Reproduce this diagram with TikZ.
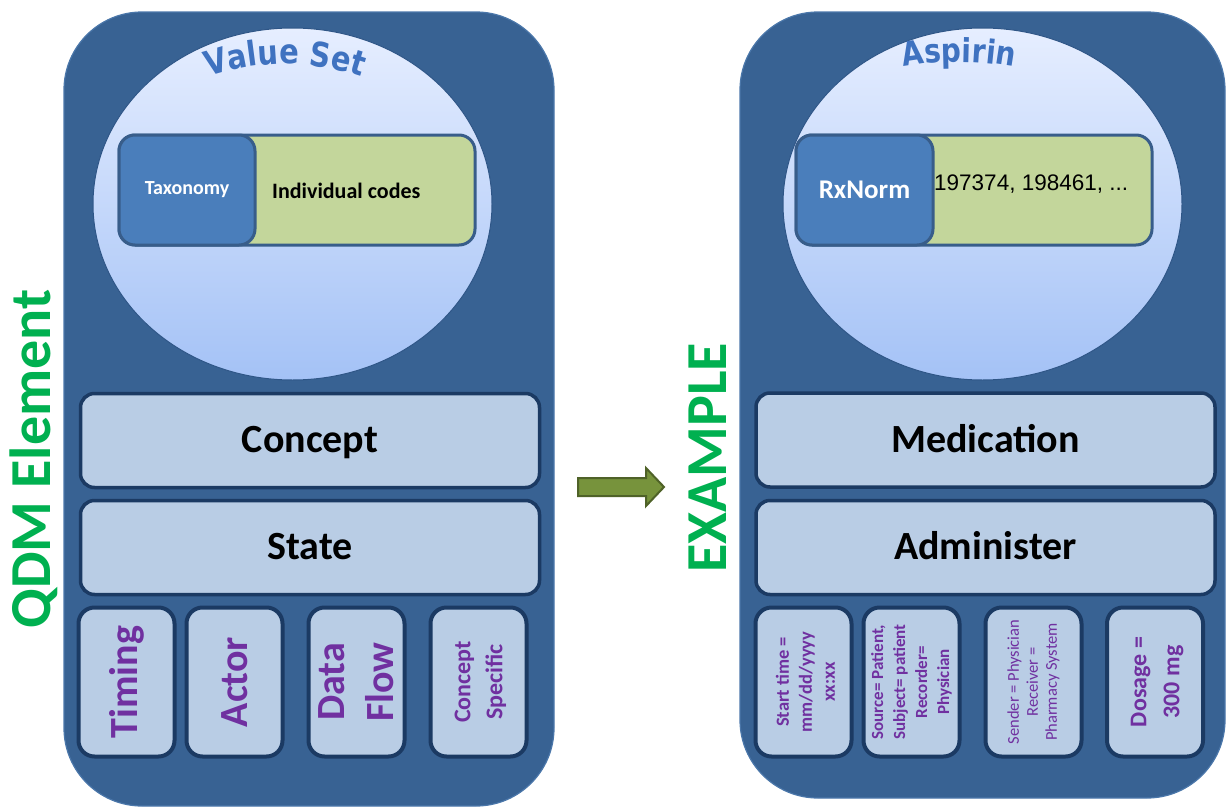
\documentclass[tikz,border=0pt]{standalone}
\usepackage{fontspec}
\setmainfont{Carlito}
\newfontfamily\arialfont{Liberation Sans}
\newfontfamily\wordart[FakeStretch=0.85]{DejaVu Sans}
\usetikzlibrary{decorations.text,shapes.geometric}
\definecolor{panelblue}{HTML}{386293}
\definecolor{paneledge}{HTML}{4B77AA}
\definecolor{bubtop}{HTML}{E6EEFF}
\definecolor{bubbot}{HTML}{A4C2F6}
\definecolor{bubedge}{HTML}{2F5687}
\definecolor{codegreen}{HTML}{C3D69B}
\definecolor{taxblue}{HTML}{4A7EBB}
\definecolor{boxedge}{HTML}{385D8A}
\definecolor{barfill}{HTML}{B9CDE5}
\definecolor{bardark}{HTML}{1B3A63}
\definecolor{qpurple}{HTML}{7030A0}
\definecolor{qgreen}{HTML}{00B050}
\definecolor{arrowfill}{HTML}{77933C}
\definecolor{arrowedge}{HTML}{4F6228}
\definecolor{titleblue}{HTML}{3F72C0}
\tikzset{
  panel/.style={rectangle, fill=panelblue, draw=paneledge, line width=1.2pt, rounded corners=78pt, inner sep=0pt},
  bubble/.style={ellipse, minimum width=399pt, minimum height=352pt, inner sep=0pt, top color=bubtop, bottom color=bubbot, draw=bubedge, line width=1pt},
  codebox/.style={rectangle, rounded corners=16pt, fill=codegreen, draw=boxedge, line width=3pt, minimum width=356pt, minimum height=110pt, inner sep=0pt},
  taxbox/.style={rectangle, rounded corners=16pt, fill=taxblue, draw=boxedge, line width=3pt, minimum height=110pt, inner sep=0pt, text=white},
  bar/.style={rectangle, rounded corners=14pt, fill=barfill, draw=bardark, line width=3.5pt, minimum width=459pt, minimum height=94pt, inner sep=0pt, font=\fontsize{40}{40}\selectfont\bfseries, text height=24pt, text depth=0pt},
  cell/.style={rectangle, rounded corners=16pt, fill=barfill, draw=bardark, line width=4pt, minimum width=96pt, minimum height=149pt, inner sep=0pt},
  celltext/.style={rotate=90, text=qpurple, align=center, inner sep=0pt},
  bigcell/.style={celltext, font=\fontsize{40}{49}\selectfont\bfseries},
  sidetitle/.style={rotate=90, text=qgreen, inner sep=0pt, font=\fontsize{58}{58}\selectfont\bfseries},
  bigarrow/.style={fill=arrowfill, draw=arrowedge, line width=2pt, line join=miter},
}
\begin{document}
\begin{tikzpicture}[x=1pt,y=-1pt]
\useasboundingbox (0,0) rectangle (1227,809);
% panels
\node[panel, minimum width=490pt, minimum height=794pt] (lpanel) at (309,409) {};
\node[panel, minimum width=485pt, minimum height=786pt] (rpanel) at (982.5,405) {};
% bubbles
\node[bubble] (lbub) at (292.5,204) {};
\node[bubble] (rbub) at (982.5,204) {};
% titles along arcs
\path[decorate, decoration={text along path, text align=center,
  text={|\wordart\fontsize{34}{34}\selectfont\bfseries\color{titleblue}|Value Set}}]
  (166,96) .. controls (239.5,53.5) and (330.5,53.5) .. (404,96);
\path[decorate, decoration={text along path, text align=center,
  text={|\wordart\fontsize{33}{33}\selectfont\bfseries\color{titleblue}|Aspirin}}]
  (856.4,80.1) .. controls (922.7,56) and (995.3,56) .. (1061.6,80.1);
% value set boxes
\node[codebox] (lcodes) at (297,190) {};
\node[taxbox, minimum width=136pt, font=\fontsize{20}{20}\selectfont\bfseries] (ltax) at (187,190) {Taxonomy};
\node[anchor=west, inner sep=0pt, font=\fontsize{22}{22}\selectfont\bfseries] (lind) at (272,191) {Individual codes};
\node[codebox] (rcodes) at (974,190) {};
\node[taxbox, minimum width=137pt, font=\fontsize{27}{27}\selectfont\bfseries] (rtax) at (864.5,190) {RxNorm};
\node[anchor=west, inner sep=0pt, font=\arialfont\fontsize{22.5}{22.5}\selectfont] (rind) at (934,184) {197374, 198461, ...};
% bars
\node[bar] (concept) at (310,440.5) {Concept};
\node[bar] (state) at (310,547.5) {State};
\node[bar] (medication) at (985.5,440) {Medication};
\node[bar] (administer) at (985.5,547.5) {Administer};
% left cells
\node[cell] (timing) at (126.5,682) {};
\node[cell] (actor) at (234.5,682) {};
\node[cell] (dataflow) at (356.5,682) {};
\node[cell] (cspec) at (478.5,682) {};
\node[bigcell] at (timing) {Timing};
\node[bigcell] at (actor) {Actor};
\node[bigcell] at (dataflow) {Data\\Flow};
\node[celltext, font=\fontsize{24}{32}\selectfont\bfseries] at ([xshift=2pt]cspec.center) {Concept\\Specific};
% right cells
\node[cell] (starttime) at (803.5,682) {};
\node[cell] (source) at (911.5,682) {};
\node[cell] (sender) at (1033.5,682) {};
\node[cell] (dosage) at (1155,682) {};
\node[celltext, font=\fontsize{18.5}{23}\selectfont\bfseries] at ([xshift=2pt]starttime.center) {Start time =\\mm/dd/yyyy\\xx:xx};
\node[celltext, font=\fontsize{17}{22}\selectfont\bfseries] at (source) {Source= Patient,\\Subject= patient\\Recorder=\\Physician};
\node[celltext, font=\fontsize{16.5}{19}\selectfont] at (sender) {Sender = Physician\\Receiver =\\Pharmacy System};
\node[celltext, font=\fontsize{24}{33}\selectfont\bfseries] at ([xshift=2pt]dosage.center) {Dosage =\\300 mg};
% side titles
\node[sidetitle] (qdm) at (34,459) {QDM Element};
\node[sidetitle] (example) at (708,458) {EXAMPLE};
% arrow
\draw[bigarrow] (578,478) -- (646,478) -- (646,468) -- (664,487) -- (646,506) -- (646,496) -- (578,496) -- cycle;
\end{tikzpicture}
\end{document}
